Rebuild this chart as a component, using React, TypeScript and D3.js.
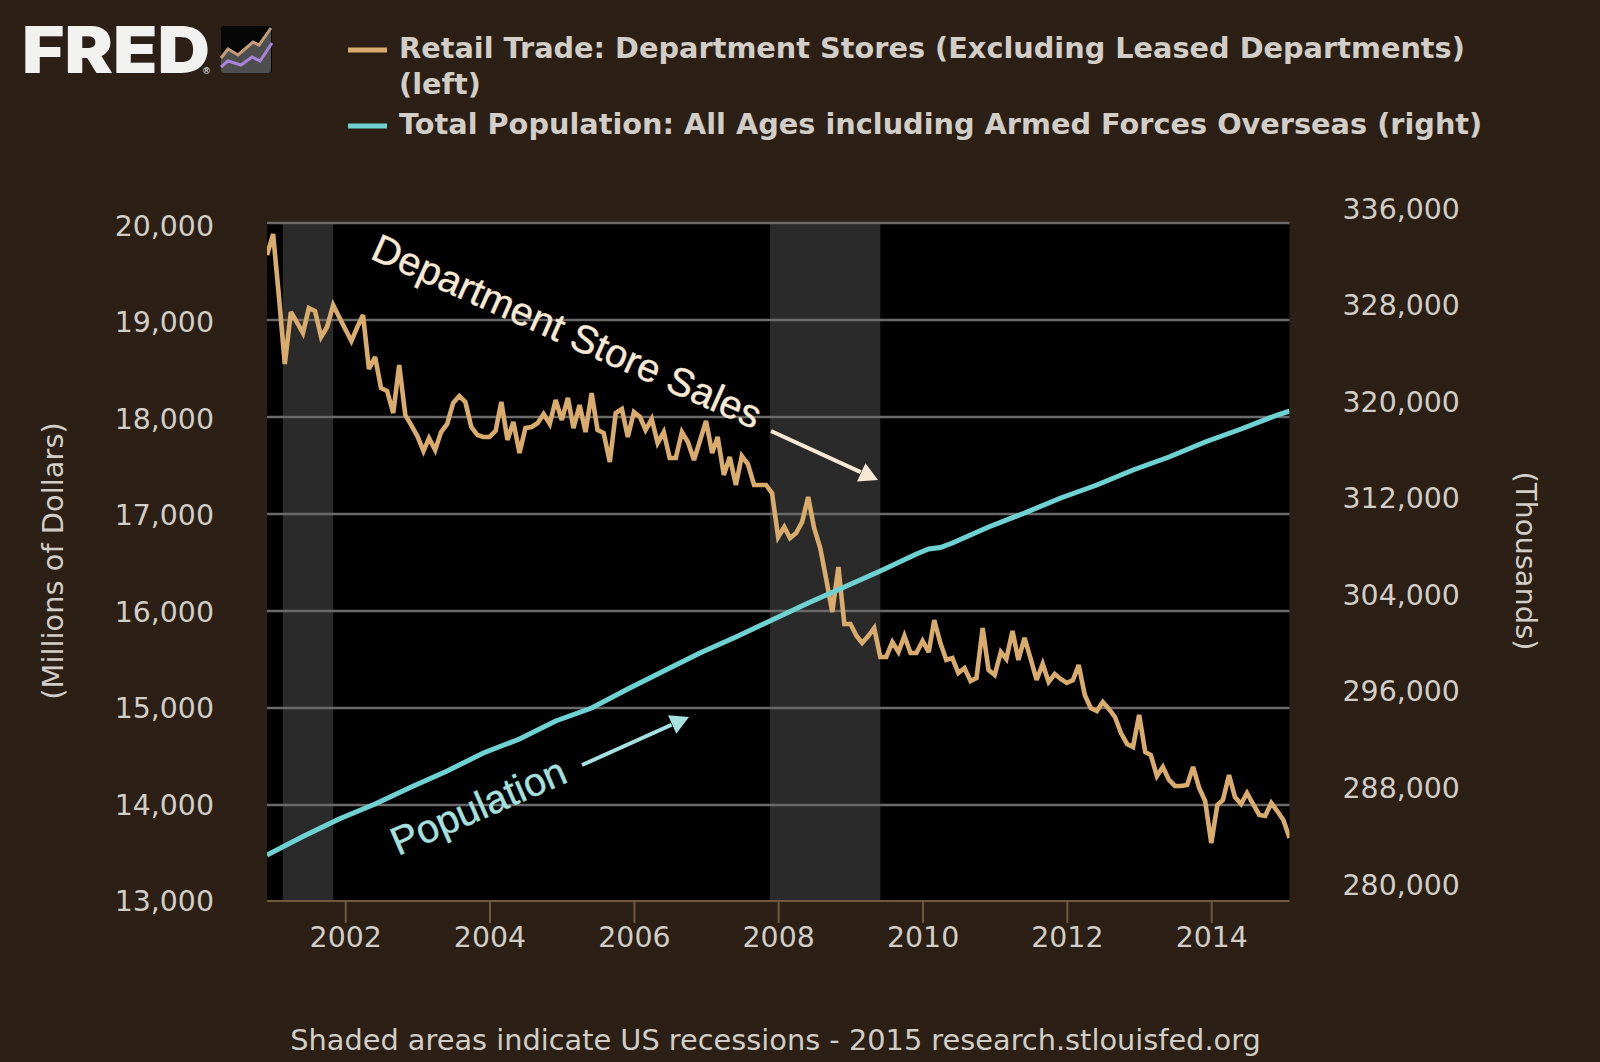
import * as d3 from 'd3';
import { useEffect, useRef } from 'react';

const WIDTH = 1600;
const HEIGHT = 1062;
const plot = { left: 267, right: 1289.5, top: 222, bottom: 900 };
const bg = '#2c2016';
const labelColor = '#d2cec7';
const salesColor = '#d9ab6c';
const popColor = '#6fd2d2';

// monthly, Dec 2000 - Feb 2015, millions of dollars
const salesValues = [
  19670, 19886, 19206, 18546, 19082, 18979, 18866, 19124, 19093, 18825, 18928, 19154,
  19031, 18907, 18783, 18917, 19051, 18495, 18618, 18299, 18268, 18041, 18536, 18020,
  17917, 17804, 17649, 17783, 17660, 17845, 17928, 18144, 18216, 18155, 17897, 17814,
  17794, 17794, 17856, 18155, 17763, 17948, 17629, 17886, 17897, 17938, 18031, 17928,
  18175, 17969, 18196, 17886, 18124, 17845, 18247, 17866, 17835, 17536, 18041, 18082,
  17794, 18051, 18000, 17866, 17979, 17732, 17845, 17577, 17577, 17845, 17742, 17557,
  17752, 17959, 17629, 17794, 17402, 17588, 17299, 17598, 17515, 17299, 17299, 17299,
  17216, 16763, 16866, 16752, 16804, 16917, 17175, 16856, 16649, 16319, 15990, 16454,
  15866, 15866, 15742, 15670, 15742, 15825, 15526, 15526, 15680, 15577, 15742, 15567,
  15567, 15691, 15577, 15907, 15670, 15495, 15515, 15361, 15412, 15278, 15309, 15825,
  15392, 15340, 15577, 15505, 15794, 15495, 15722, 15515, 15289, 15454, 15268, 15350,
  15299, 15258, 15289, 15443, 15134, 15000, 14969, 15062, 14990, 14907, 14742, 14629,
  14598, 14928, 14546, 14515, 14299, 14392, 14258, 14196, 14196, 14206, 14392, 14175,
  14041, 13608, 14000, 14052, 14309, 14082, 14010, 14124, 14010, 13897, 13887, 14021,
  13938, 13845, 13660,
];

// read every six months off the line, thousands
const popDates = [
  '2000-12', '2001-06', '2001-12', '2002-06', '2002-12', '2003-06', '2003-12', '2004-06',
  '2004-12', '2005-06', '2005-12', '2006-06', '2006-12', '2007-06', '2007-12', '2008-06',
  '2008-12', '2009-06', '2009-12', '2010-02', '2010-04', '2010-06', '2010-12', '2011-06',
  '2011-12', '2012-06', '2012-12', '2013-06', '2013-12', '2014-06', '2014-12', '2015-02',
];
const popValues = [
  282485, 284018, 285467, 286710, 288118, 289444, 290935, 292095,
  293586, 294663, 296237, 297728, 299219, 300544, 301953, 303361,
  304686, 306012, 307420, 307834, 307959, 308331, 309657, 310816,
  312059, 313136, 314379, 315456, 316698, 317775, 318935, 319266,
];

const recessions = [
  ['2001-03', '2001-11'],
  ['2007-12', '2009-06'],
];

const leftTicks = [13000, 14000, 15000, 16000, 17000, 18000, 19000, 20000];
const rightTicks = [280000, 288000, 296000, 304000, 312000, 320000, 328000, 336000];
const yearTicks = [2002, 2004, 2006, 2008, 2010, 2012, 2014];

const legendItems = [
  { color: salesColor, y: 50, lines: ['Retail Trade: Department Stores (Excluding Leased Departments)', '(left)'] },
  { color: popColor, y: 126, lines: ['Total Population: All Ages including Armed Forces Overseas (right)'] },
];

const parseMonth = d3.timeParse('%Y-%m');
const month = (s: string) => parseMonth(s) as Date;

export default function App() {
  const ref = useRef<SVGSVGElement>(null);

  useEffect(() => {
    const svg = d3.select(ref.current!);
    svg.selectAll('*').remove();

    svg.append('rect').attr('width', WIDTH).attr('height', HEIGHT).attr('fill', bg);

    const start = month('2000-12');
    const end = month('2015-02');
    const x = d3.scaleTime().domain([start, end]).range([plot.left, plot.right]);
    const yLeft = d3.scaleLinear().domain([13000, 20000]).range([902, 223]);
    const yRight = d3.scaleLinear().domain([280000, 336000]).range([885, 209]);
    // the left labels sit a little tighter than the grid lines in the source
    const yLeftLabels = yLeft.copy().range([901.5, 226]);

    const months = d3.timeMonth.range(start, d3.timeMonth.offset(end, 1));

    // plot area
    svg
      .append('rect')
      .attr('x', plot.left)
      .attr('y', plot.top)
      .attr('width', plot.right - plot.left)
      .attr('height', plot.bottom - plot.top)
      .attr('fill', '#000');

    svg
      .append('g')
      .selectAll('rect')
      .data(recessions)
      .enter()
      .append('rect')
      .attr('x', (d) => x(month(d[0])) - 2)
      .attr('y', plot.top)
      .attr('width', (d) => x(month(d[1])) - x(month(d[0])) + 2)
      .attr('height', plot.bottom - plot.top)
      .attr('fill', '#2a2a2b');

    svg
      .append('g')
      .selectAll('line')
      .data(leftTicks.filter((d) => d > 13000))
      .enter()
      .append('line')
      .attr('x1', plot.left)
      .attr('x2', plot.right)
      .attr('y1', (d) => yLeft(d))
      .attr('y2', (d) => yLeft(d))
      .attr('stroke', '#6a6a6a')
      .attr('stroke-width', 2.4);

    svg
      .append('defs')
      .append('clipPath')
      .attr('id', 'plotClip')
      .append('rect')
      .attr('x', plot.left)
      .attr('y', plot.top)
      .attr('width', plot.right - plot.left)
      .attr('height', plot.bottom - plot.top);

    const lines = svg.append('g').attr('clip-path', 'url(#plotClip)').attr('fill', 'none');

    const salesLine = d3
      .line<number>()
      .x((_d, i) => x(months[i]))
      .y((d) => yLeft(d));

    lines
      .append('path')
      .attr('d', salesLine(salesValues))
      .attr('stroke', salesColor)
      .attr('stroke-width', 4.6)
      .attr('stroke-linejoin', 'miter')
      .attr('stroke-miterlimit', 3);

    const popLine = d3
      .line<number>()
      .x((_d, i) => x(month(popDates[i])))
      .y((d) => yRight(d));

    lines
      .append('path')
      .attr('d', popLine(popValues))
      .attr('stroke', popColor)
      .attr('stroke-width', 5);

    // axes
    const styleAxis = (g: any, size = 28.4) => {
      g.select('.domain').remove();
      g.selectAll('text')
        .attr('fill', labelColor)
        .style('font-family', '"DejaVu Sans", sans-serif')
        .style('font-size', `${size}px`);
    };

    svg
      .append('line')
      .attr('x1', plot.left)
      .attr('x2', plot.right)
      .attr('y1', plot.bottom + 1)
      .attr('y2', plot.bottom + 1)
      .attr('stroke', '#6f5a40')
      .attr('stroke-width', 2);

    svg
      .append('g')
      .attr('transform', `translate(0,${plot.bottom})`)
      .call(
        d3
          .axisBottom(x)
          .tickValues(yearTicks.map((d) => new Date(d, 0, 1)))
          .tickFormat(d3.timeFormat('%Y') as any)
          .tickSize(23)
          .tickPadding(4),
      )
      .call(styleAxis)
      .call((g: any) => g.selectAll('line').attr('stroke', '#6f5a40').attr('stroke-width', 2));

    svg
      .append('g')
      .attr('transform', 'translate(214,0)')
      .call(d3.axisLeft(yLeftLabels).tickValues(leftTicks).tickFormat(d3.format(',') as any).tickSize(0).tickPadding(0))
      .call(styleAxis);

    svg
      .append('g')
      .attr('transform', 'translate(1342.5,0)')
      .call(d3.axisRight(yRight).tickValues(rightTicks).tickFormat(d3.format(',') as any).tickSize(0).tickPadding(0))
      .call(styleAxis);

    const axisTitle = (label: string, tx: number, ty: number, angle: number) =>
      svg
        .append('text')
        .attr('transform', `translate(${tx},${ty}) rotate(${angle})`)
        .attr('text-anchor', 'middle')
        .attr('fill', labelColor)
        .style('font-family', '"DejaVu Sans", sans-serif')
        .style('font-size', '28.9px')
        .text(label);

    axisTitle('(Millions of Dollars)', 63, 561, -90);
    axisTitle('(Thousands)', 1516, 561, 90);

    // footer
    svg
      .append('text')
      .attr('x', 775.5)
      .attr('y', 1050)
      .attr('text-anchor', 'middle')
      .attr('fill', labelColor)
      .style('font-family', '"DejaVu Sans", sans-serif')
      .style('font-size', '28.8px')
      .text('Shaded areas indicate US recessions - 2015 research.stlouisfed.org');

    // legend
    const legend = svg.append('g');
    legendItems.forEach((item) => {
      legend
        .append('line')
        .attr('x1', 348)
        .attr('x2', 387)
        .attr('y1', item.y)
        .attr('y2', item.y)
        .attr('stroke', item.color)
        .attr('stroke-width', 5);
      item.lines.forEach((t, i) => {
        legend
          .append('text')
          .attr('x', 399)
          .attr('y', item.y + 8 + i * 36)
          .attr('fill', labelColor)
          .style('font-family', '"DejaVu Sans", sans-serif')
          .style('font-weight', 700)
          .style('font-size', '28.75px')
          .text(t);
      });
    });

    // logo
    const logo = svg.append('g');
    logo
      .append('text')
      .attr('x', 22)
      .attr('y', 73)
      .attr('textLength', 188)
      .attr('lengthAdjust', 'spacingAndGlyphs')
      .attr('fill', '#f1f1ef')
      .style('font-family', 'Inter, sans-serif')
      .style('font-weight', 900)
      .style('font-size', '65px')
      .text('FRED');
    logo
      .append('text')
      .attr('x', 202)
      .attr('y', 74)
      .attr('fill', '#f1f1ef')
      .style('font-family', '"DejaVu Sans", sans-serif')
      .style('font-size', '9px')
      .text('®');
    logo.append('rect').attr('x', 221).attr('y', 26).attr('width', 51).attr('height', 47).attr('rx', 3).attr('fill', '#060606');
    logo.append('path').attr('d', 'M221,58L228,49L238,55L253,42L259,45L271,28V70Q271,73 268,73H224Q221,73 221,70Z').attr('fill', '#4e4e4e');
    logo.append('path').attr('d', 'M221,58L228,49L238,55L253,42L259,45L271,28').attr('fill', 'none').attr('stroke', '#c59c78').attr('stroke-width', 3);
    logo.append('path').attr('d', 'M221,67L228,61L241,65L252,57L260,61L272,43').attr('fill', 'none').attr('stroke', '#a784d8').attr('stroke-width', 3);

    // annotations
    const note = (label: string, tx: number, ty: number, angle: number, size: number, color: string) =>
      svg
        .append('text')
        .attr('transform', `translate(${tx},${ty}) rotate(${angle})`)
        .attr('fill', color)
        .attr('stroke', color)
        .attr('stroke-width', 0.4)
        .style('font-family', '"Liberation Sans", Arial, sans-serif')
        .style('font-size', `${size}px`)
        .text(label);

    note('Department Store Sales', 369, 258, 24, 39.5, '#f8e9d4');
    note('Population', 398, 856, -23.5, 39.6, '#a6e0df');

    const arrow = (x1: number, y1: number, x2: number, y2: number, color: string) => {
      const a = Math.atan2(y2 - y1, x2 - x1);
      const len = 21;
      const spread = 0.5;
      const bx = x2 - (len - 2) * Math.cos(a);
      const by = y2 - (len - 2) * Math.sin(a);
      svg
        .append('line')
        .attr('x1', x1)
        .attr('y1', y1)
        .attr('x2', bx)
        .attr('y2', by)
        .attr('stroke', color)
        .attr('stroke-width', 4);
      const head = d3.path();
      head.moveTo(x2, y2);
      head.lineTo(x2 - len * Math.cos(a - spread), y2 - len * Math.sin(a - spread));
      head.lineTo(x2 - len * Math.cos(a + spread), y2 - len * Math.sin(a + spread));
      head.closePath();
      svg.append('path').attr('d', head.toString()).attr('fill', color);
    };

    arrow(771, 431, 878, 480, '#f8e9d4');
    arrow(582, 765, 689, 717, '#a6e0df');
  }, []);

  return (
    <svg
      ref={ref}
      width={WIDTH}
      height={HEIGHT}
      style={{ position: 'fixed', top: 0, left: 0, display: 'block' }}
    />
  );
}
